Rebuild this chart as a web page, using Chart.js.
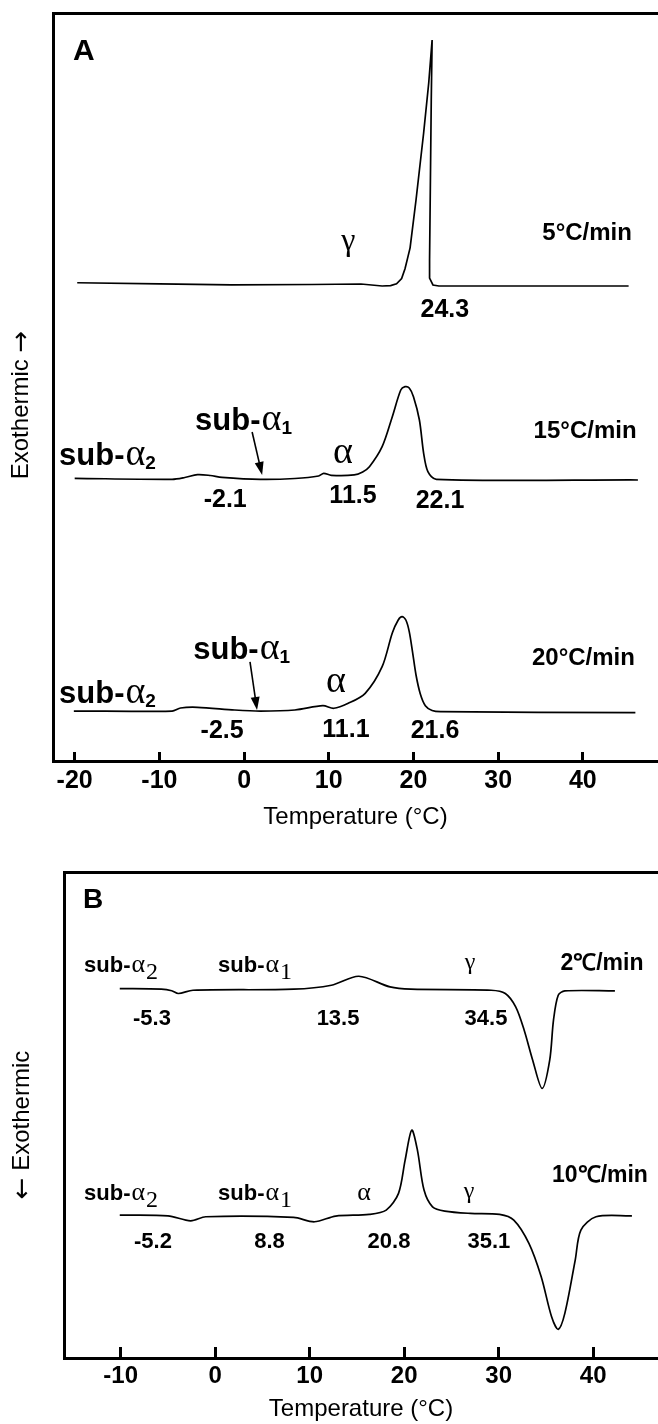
<!DOCTYPE html>
<html><head><meta charset="utf-8">
<script src="https://cdn.jsdelivr.net/npm/chart.js@4.4.1/dist/chart.umd.min.js"></script>
<style>
html,body{margin:0;padding:0;background:#fff;}
#wrapA{position:absolute;left:0;top:0;width:658px;height:845px;}
#wrapB{position:absolute;left:0;top:845px;width:658px;height:579px;}
canvas{display:block;}
</style></head><body>
<div id="wrapA"><canvas id="cA" width="658" height="845"></canvas></div>
<div id="wrapB"><canvas id="cB" width="658" height="579"></canvas></div>
<script>
// ---------- Data (temperature °C, heat flow in arbitrary offset units) ----------
// Panel A
const tempA5  = [-19.7,-10,-1.5,8,13.8,16.3,17.3,18.0,18.6,19.0,19.3,19.6,20.3,21.2,21.8,22.2,22.1,21.9,21.9,22.3,23.0,45.4];
const heatA5  = [63.94,63.8,63.64,63.7,63.77,63.5,63.55,63.8,64.5,65.8,67.2,68.6,75.0,83.96,90.64,96.39,88.37,66.98,64.57,63.64,63.5,63.5];
const tempA15 = [-20,-8.5,-7.0,-5.5,-4.0,-2.6,1.9,6.0,8.8,9.4,10.3,13.0,14.0,14.8,16.3,17.5,18.5,19.0,19.5,20.0,20.7,21.2,21.7,22.7,46.5];
const heatA15 = [37.79,37.66,37.90,38.28,38.17,37.93,37.66,37.77,38.10,38.46,38.19,38.24,38.64,39.34,42.02,46.03,49.60,50.04,49.87,48.70,45.59,41.14,38.68,37.66,37.57];
const tempA20 = [-20.1,-8.5,-7.5,-5.5,-1.1,1.9,6.0,9.3,10.6,12.3,14.3,16.3,17.5,18.2,18.65,19.1,19.5,19.9,20.3,20.8,21.4,22.2,23.2,46.2];
const heatA20 = [6.68,6.68,7.09,7.18,6.82,6.68,6.82,7.39,7.05,7.71,9.05,12.61,17.11,18.85,19.29,18.85,17.3,14.5,11.5,9.0,7.4,6.75,6.59,6.46];
// Panel B
const tempB2  = [-10.1,-5.7,-4.6,-3.9,-2.35,8.3,12.3,15.2,18.5,20.7,29.2,30.7,31.8,32.7,33.6,34.6,35.4,35.8,36.3,37.0,42.3];
const heatB2  = [76.02,75.88,75.57,75.0,75.67,75.88,76.70,78.55,76.35,75.88,75.67,75.0,72.24,67.45,61.28,55.46,61.28,69.50,74.65,75.53,75.53];
const tempB10 = [-10.1,-5.0,-2.6,-1.0,8.3,10.5,12.75,16.3,18.1,19.4,20.1,20.8,21.4,22.1,23.0,24.3,27.0,30.1,31.6,33.2,34.5,35.6,36.3,37.0,38.1,38.7,40.3,44.1];
const heatB10 = [29.41,29.26,28.23,29.06,28.93,28.03,29.20,29.55,30.43,33.87,40.72,46.88,42.77,34.55,31.11,30.23,29.76,29.55,28.38,23.59,16.72,8.49,5.90,9.19,20.15,26.32,29.06,29.26];
// Tick labels
const ticksA = [-20,-10,0,10,20,30,40];
const ticksB = [-10,0,10,20,30,40];
const xTitle = 'Temperature (°C)';

const SANS = "'Liberation Sans', Arial, Helvetica, sans-serif";
const SERIF = "'Liberation Serif', 'Times New Roman', serif";
const ARROWF = "'DejaVu Sans', sans-serif";

function pts(t, v){ return t.map((x,i)=>({x:x, y:v[i]})); }
function ds(t, v, tension){
  return {data: pts(t,v), borderColor:'#000', borderWidth:1.7, pointRadius:0, tension:tension, fill:false, xAxisID:'x', yAxisID:'y'};
}

const notesPlugin = {
  id: 'notes',
  afterDatasetsDraw(chart, args, opts){
    const ctx = chart.ctx, xs = chart.scales.x, ys = chart.scales.y;
    ctx.save();
    ctx.fillStyle = '#000'; ctx.strokeStyle = '#000';
    for (const n of opts.items){
      const px = xs.getPixelForValue(n.x), py = ys.getPixelForValue(n.y);
      if (n.kind === 'text'){
        ctx.font = n.font; ctx.textAlign = n.align || 'center'; ctx.textBaseline = 'alphabetic';
        ctx.fillText(n.text, px, py);
      } else if (n.kind === 'sub'){
        const s = opts.sub;
        ctx.textAlign = 'left'; ctx.textBaseline = 'alphabetic';
        let cx = px;
        ctx.font = s.f1; ctx.fillText('sub-', cx, py); cx += ctx.measureText('sub-').width + s.gap1;
        ctx.font = s.f2; ctx.fillText('α', cx, py); cx += ctx.measureText('α').width + s.gap2;
        ctx.font = s.f3; ctx.fillText(n.sub, cx, py + s.dy);
      } else if (n.kind === 'arrow'){
        const qx = xs.getPixelForValue(n.x2), qy = ys.getPixelForValue(n.y2);
        const ang = Math.atan2(qy-py, qx-px), L = 13, W = 4.5;
        ctx.lineWidth = 1.6;
        ctx.beginPath(); ctx.moveTo(px,py);
        ctx.lineTo(qx - Math.cos(ang)*L*0.8, qy - Math.sin(ang)*L*0.8); ctx.stroke();
        ctx.beginPath(); ctx.moveTo(qx,qy);
        ctx.lineTo(qx - Math.cos(ang)*L - Math.sin(ang)*W, qy - Math.sin(ang)*L + Math.cos(ang)*W);
        ctx.lineTo(qx - Math.cos(ang)*L + Math.sin(ang)*W, qy - Math.sin(ang)*L - Math.cos(ang)*W);
        ctx.closePath(); ctx.fill();
      }
    }
    const yt = opts.yTitle;
    if (yt){
      const ca = chart.chartArea;
      ctx.translate(yt.cx, (ca.top+ca.bottom)/2 + yt.shift);
      ctx.rotate(-Math.PI/2);
      ctx.textAlign = 'left'; ctx.textBaseline = 'middle';
      let total = 0;
      for (const p of yt.parts){ ctx.font = p.f; total += ctx.measureText(p.t).width; }
      let cx = -total/2;
      for (const p of yt.parts){ ctx.font = p.f; ctx.fillText(p.t, cx, p.dy || 0); cx += ctx.measureText(p.t).width; }
    }
    ctx.restore();
  }
};

function makeScales(c){
  return {
    x: {type:'linear', position:'bottom', min:c.min, max:c.max,
      afterBuildTicks: s => { s.ticks = c.ticks.map(v => ({value:v})); },
      afterFit: s => { s.height = c.xH; },
      grid: {display:true, drawOnChartArea:false, drawTicks:true, tickLength:c.tickLen, tickWidth:3, tickColor:'#000'},
      border: {display:true, width:3, color:'#000'},
      ticks: {color:'#000', font:{family:SANS, size:c.tickSize, weight:'bold'}, padding:c.tickPad, maxRotation:0, autoSkip:false, callback: v => String(v)},
      title: {display:true, text:xTitle, color:'#000', font:{family:SANS, size:c.titleSize}, padding:{top:0, bottom:c.titlePad}}
    },
    xTop: {type:'linear', position:'top', min:c.min, max:c.max,
      afterFit: s => { s.height = 0; },
      grid: {display:false}, border: {display:true, width:3, color:'#000'}, ticks: {display:false}},
    y: {type:'linear', position:'left', min:0, max:100,
      afterFit: s => { s.width = c.yW; },
      grid: {display:false}, border: {display:true, width:3, color:'#000'}, ticks: {display:false}}
  };
}

const NUM_A = `bold 25px ${SANS}`;
const RATE_A = `bold 24px ${SANS}`;
const subA = {f1:`bold 31px ${SANS}`, f2:`38px ${SERIF}`, f3:`bold 19px ${SANS}`, gap1:1, gap2:0, dy:4};

new Chart(document.getElementById('cA'), {
  type:'line',
  data:{datasets:[ds(tempA5,heatA5,0), ds(tempA15,heatA15,0.3), ds(tempA20,heatA20,0.3)]},
  options:{
    responsive:false, animation:false, events:[],
    layout:{padding:{top:13, left:0, right:0, bottom:0}},
    scales: makeScales({min:-22.56, max:48.87, ticks:ticksA, xH:84, tickLen:-9, tickSize:25, tickPad:14, titleSize:24, titlePad:13, yW:53}),
    plugins:{legend:{display:false}, tooltip:{enabled:false},
      notes:{sub:subA,
        yTitle:{cx:21, shift:18, parts:[{t:'Exothermic ', f:`24px ${SANS}`}, {t:'→', f:`26px ${ARROWF}`, dy:1}]},
        items:[
        {kind:'text', x:-20.2, y:93.7, text:'A', font:`bold 30px ${SANS}`, align:'left'},
        {kind:'text', x:12.3, y:68.3, text:'γ', font:`32px ${SERIF}`},
        {kind:'text', x:23.7, y:59.36, text:'24.3', font:NUM_A},
        {kind:'text', x:40.5, y:69.65, text:'5°C/min', font:RATE_A},
        {kind:'sub', x:-21.85, y:39.57, sub:'2'},
        {kind:'sub', x:-5.78, y:44.25, sub:'1'},
        {kind:'arrow', x:0.95, y:43.98, x2:2.13, y2:38.24},
        {kind:'text', x:11.67, y:39.84, text:'α', font:`38px ${SERIF}`},
        {kind:'text', x:-2.23, y:33.96, text:'-2.1', font:NUM_A},
        {kind:'text', x:12.86, y:34.49, text:'11.5', font:NUM_A},
        {kind:'text', x:23.13, y:33.82, text:'22.1', font:NUM_A},
        {kind:'text', x:40.26, y:43.18, text:'15°C/min', font:RATE_A},
        {kind:'sub', x:-6.0, y:13.64, sub:'1'},
        {kind:'arrow', x:0.7, y:13.24, x2:1.53, y2:6.82},
        {kind:'sub', x:-21.85, y:7.75, sub:'2'},
        {kind:'text', x:10.85, y:9.22, text:'α', font:`38px ${SERIF}`},
        {kind:'text', x:-2.59, y:3.07, text:'-2.5', font:NUM_A},
        {kind:'text', x:12.03, y:3.21, text:'11.1', font:NUM_A},
        {kind:'text', x:22.54, y:3.07, text:'21.6', font:NUM_A},
        {kind:'text', x:40.07, y:12.83, text:'20°C/min', font:RATE_A}
      ]}
    }
  },
  plugins:[notesPlugin]
});

const NUM_B = `bold 22px ${SANS}`;
const RATE_B = `bold 23px ${SANS}`;
const subB = {f1:`bold 22px ${SANS}`, f2:`26px ${SERIF}`, f3:`24px ${SERIF}`, gap1:1, gap2:1, dy:7};

new Chart(document.getElementById('cB'), {
  type:'line',
  data:{datasets:[ds(tempB2,heatB2,0.3), ds(tempB10,heatB10,0.3)]},
  options:{
    responsive:false, animation:false, events:[],
    layout:{padding:{top:27, left:0, right:0, bottom:0}},
    scales: makeScales({min:-16.0, max:46.86, ticks:ticksB, xH:66, tickLen:-11, tickSize:24, tickPad:15, titleSize:24, titlePad:0, yW:64}),
    plugins:{legend:{display:false}, tooltip:{enabled:false},
      notes:{sub:subB,
        yTitle:{cx:22, shift:10, parts:[{t:'←', f:`26px ${ARROWF}`, dy:1}, {t:' Exothermic', f:`24px ${SANS}`}]},
        items:[
        {kind:'text', x:-13.99, y:92.53, text:'B', font:`bold 28px ${SANS}`, align:'left'},
        {kind:'sub', x:-13.88, y:79.37, sub:'2'},
        {kind:'sub', x:0.30, y:79.37, sub:'1'},
        {kind:'text', x:26.96, y:79.99, text:'γ', font:`24px ${SERIF}`},
        {kind:'text', x:40.93, y:79.79, text:'2℃/min', font:RATE_B},
        {kind:'text', x:-6.69, y:68.48, text:'-5.3', font:NUM_B},
        {kind:'text', x:13.0, y:68.48, text:'13.5', font:NUM_B},
        {kind:'text', x:28.66, y:68.48, text:'34.5', font:NUM_B},
        {kind:'sub', x:-13.88, y:32.49, sub:'2'},
        {kind:'sub', x:0.30, y:32.49, sub:'1'},
        {kind:'text', x:15.75, y:32.49, text:'α', font:`26px ${SERIF}`},
        {kind:'text', x:26.86, y:32.90, text:'γ', font:`24px ${SERIF}`},
        {kind:'text', x:40.72, y:36.19, text:'10℃/min', font:RATE_B},
        {kind:'text', x:-6.59, y:22.62, text:'-5.2', font:NUM_B},
        {kind:'text', x:5.75, y:22.62, text:'8.8', font:NUM_B},
        {kind:'text', x:18.39, y:22.62, text:'20.8', font:NUM_B},
        {kind:'text', x:28.97, y:22.62, text:'35.1', font:NUM_B}
      ]}
    }
  },
  plugins:[notesPlugin]
});
</script>
</body></html>
